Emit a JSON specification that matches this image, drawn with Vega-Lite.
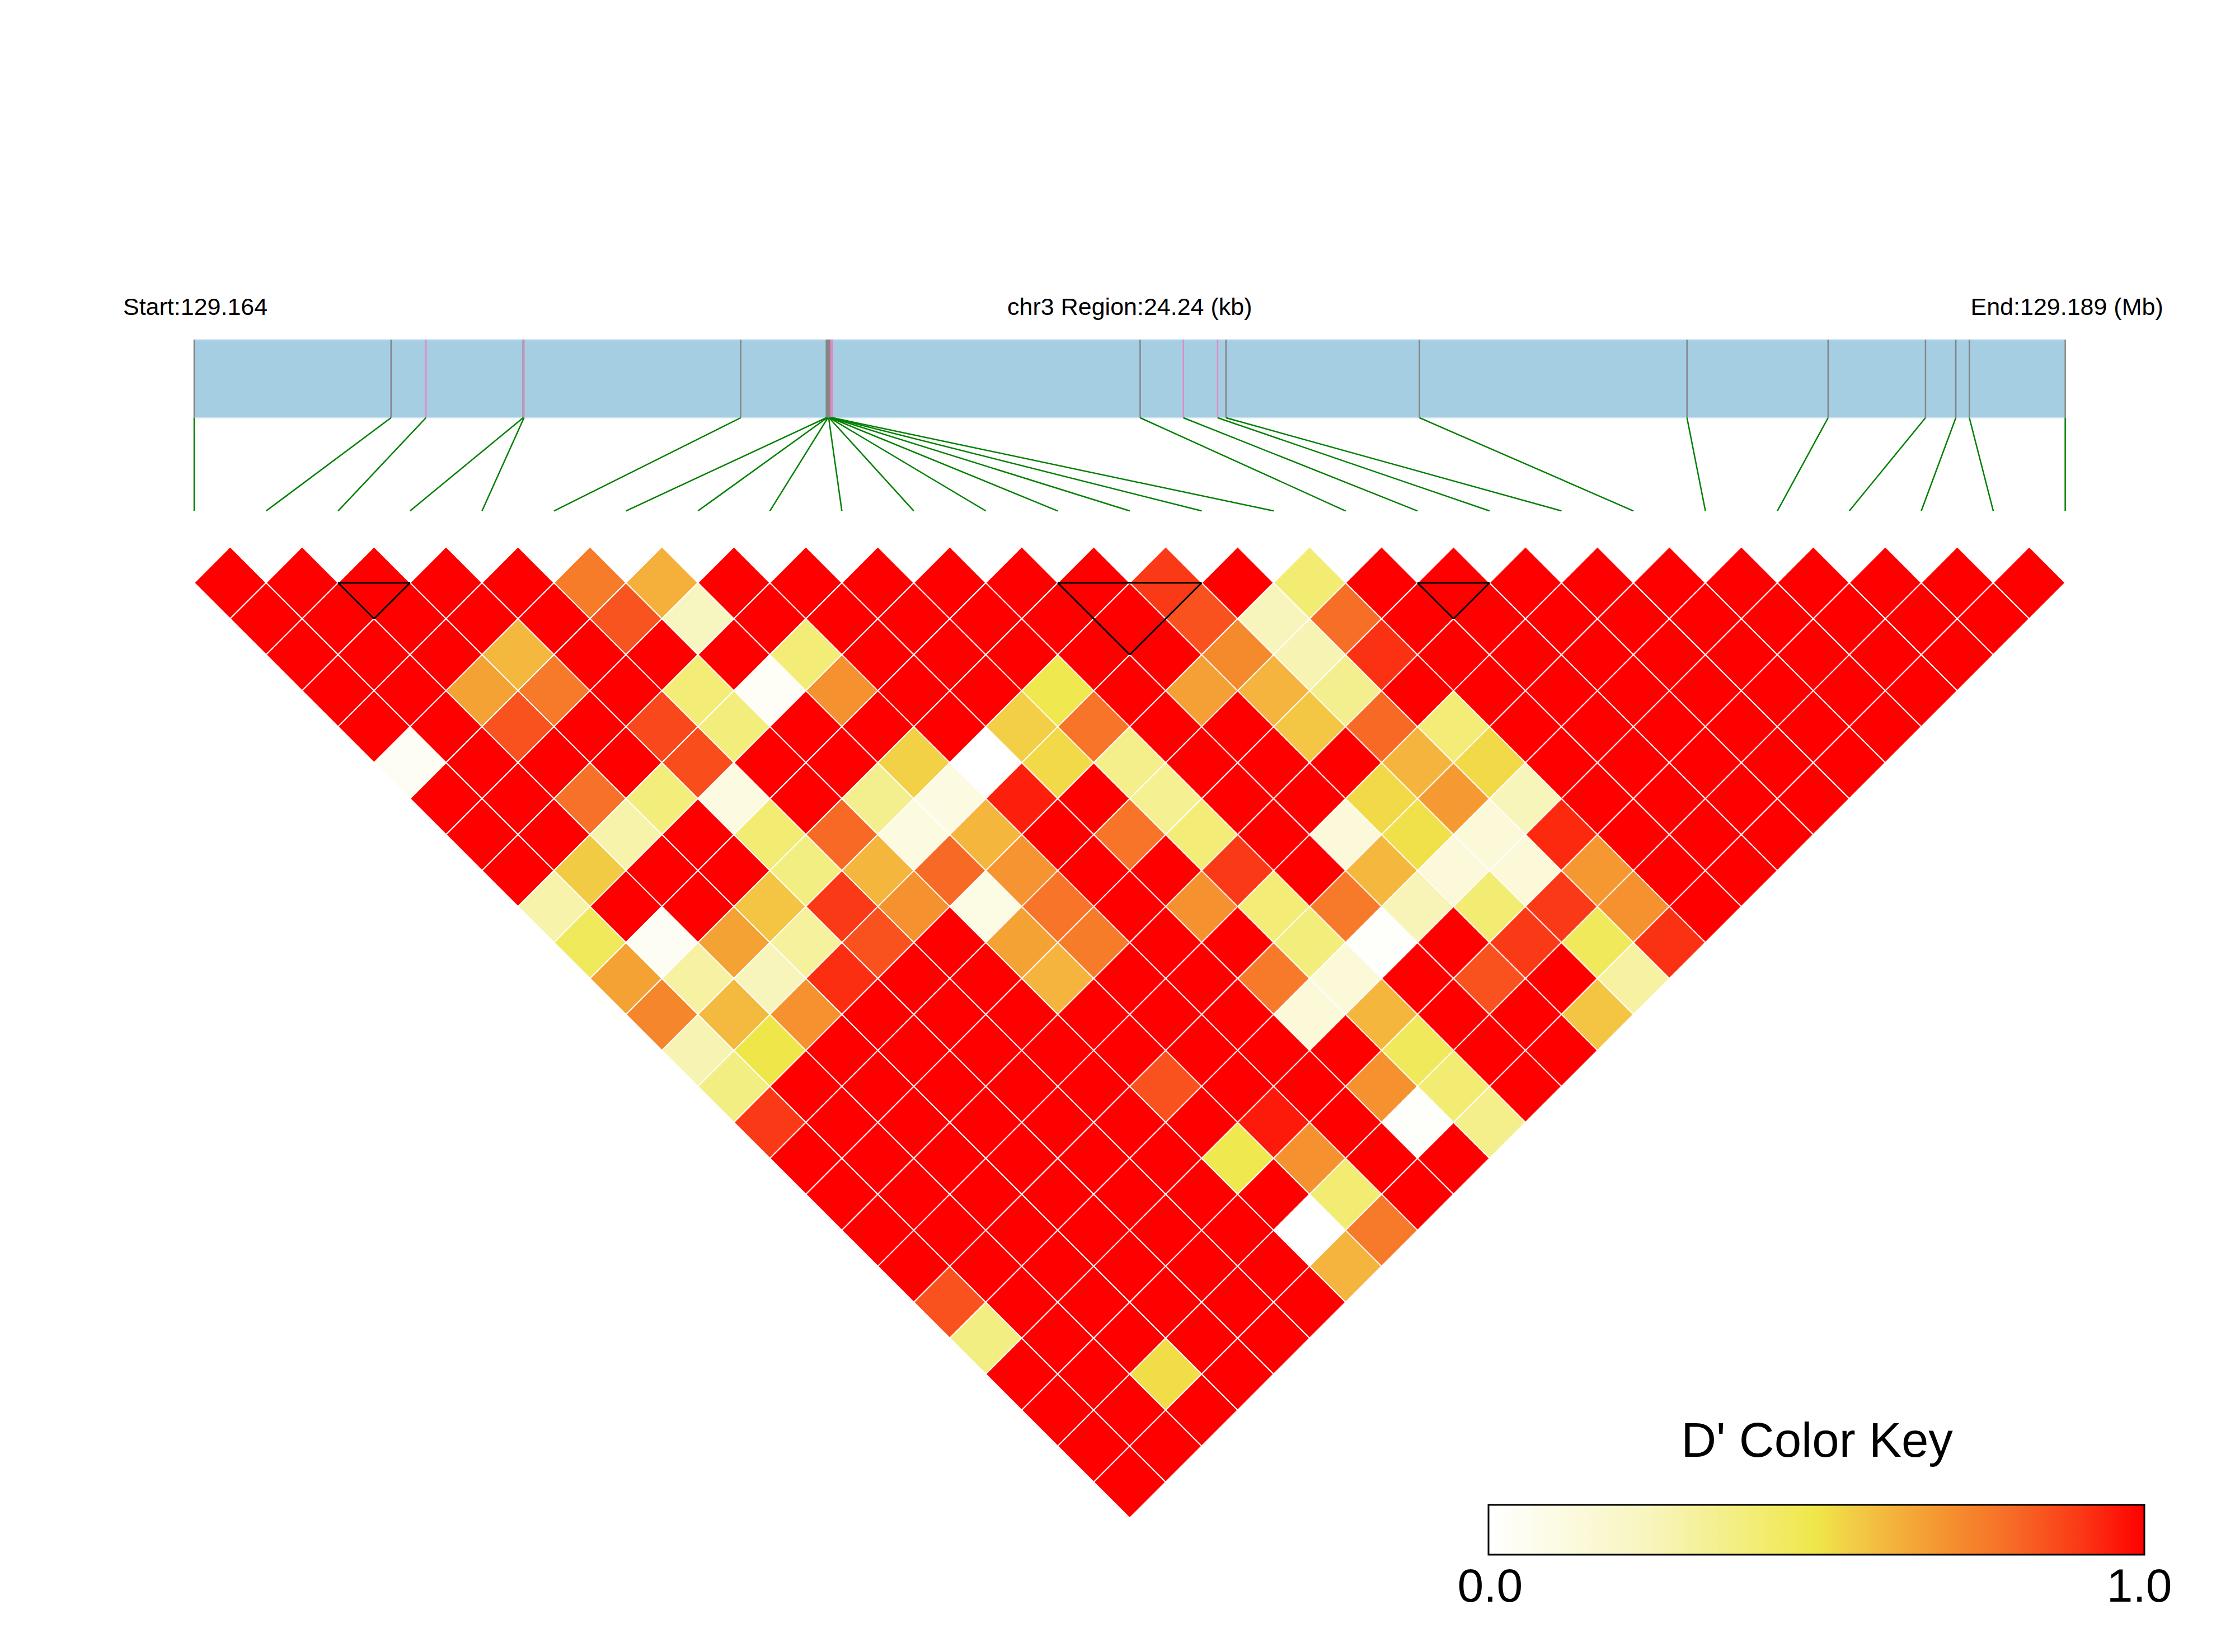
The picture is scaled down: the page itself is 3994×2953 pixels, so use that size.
{
"$schema": "https://vega.github.io/schema/vega-lite/v6.json",
"width": 3994, "height": 2953,
"autosize": {"type": "none"},
"padding": 0,
"background": "white",
"config": {"view": {"stroke": null}, "font": "Liberation Sans"},
"datasets": {
"snps": [
{"snp":0,"pos_kb":0,"group":"A"},{"snp":1,"pos_kb":2.55,"group":"A"},{"snp":2,"pos_kb":3.003,"group":"B"},{"snp":3,"pos_kb":4.262,"group":"A"},{"snp":4,"pos_kb":4.273,"group":"B"},{"snp":5,"pos_kb":7.081,"group":"A"},{"snp":6,"pos_kb":8.19,"group":"A"},{"snp":7,"pos_kb":8.2,"group":"A"},{"snp":8,"pos_kb":8.21,"group":"A"},{"snp":9,"pos_kb":8.22,"group":"A"},{"snp":10,"pos_kb":8.225,"group":"A"},{"snp":11,"pos_kb":8.23,"group":"A"},{"snp":12,"pos_kb":8.24,"group":"A"},{"snp":13,"pos_kb":8.25,"group":"B"},{"snp":14,"pos_kb":8.26,"group":"B"},{"snp":15,"pos_kb":8.27,"group":"B"},{"snp":16,"pos_kb":12.255,"group":"A"},{"snp":17,"pos_kb":12.815,"group":"B"},{"snp":18,"pos_kb":13.259,"group":"B"},{"snp":19,"pos_kb":13.367,"group":"A"},{"snp":20,"pos_kb":15.874,"group":"A"},{"snp":21,"pos_kb":19.34,"group":"A"},{"snp":22,"pos_kb":21.168,"group":"A"},{"snp":23,"pos_kb":22.43,"group":"A"},{"snp":24,"pos_kb":22.823,"group":"A"},{"snp":25,"pos_kb":22.998,"group":"A"},{"snp":26,"pos_kb":24.24,"group":"A"}
],
"blocks": [{"from":2,"to":3},{"from":12,"to":14},{"from":17,"to":18}],
"ld": [
{"i":0,"j":1,"d":1},{"i":0,"j":2,"d":1},{"i":0,"j":3,"d":1},{"i":0,"j":4,"d":1},{"i":0,"j":5,"d":1},{"i":0,"j":6,"d":0.04},{"i":0,"j":7,"d":1},{"i":0,"j":8,"d":1},{"i":0,"j":9,"d":1},{"i":0,"j":10,"d":0.29},{"i":0,"j":11,"d":0.46},{"i":0,"j":12,"d":0.66},{"i":0,"j":13,"d":0.73},{"i":0,"j":14,"d":0.27},{"i":0,"j":15,"d":0.38},{"i":0,"j":16,"d":0.9},{"i":0,"j":17,"d":1},{"i":0,"j":18,"d":1},{"i":0,"j":19,"d":1},{"i":0,"j":20,"d":1},{"i":0,"j":21,"d":0.85},{"i":0,"j":22,"d":0.38},{"i":0,"j":23,"d":1},{"i":0,"j":24,"d":1},{"i":0,"j":25,"d":1},{"i":0,"j":26,"d":1},
{"i":1,"j":2,"d":1},{"i":1,"j":3,"d":1},{"i":1,"j":4,"d":1},{"i":1,"j":5,"d":1},{"i":1,"j":6,"d":1},{"i":1,"j":7,"d":1},{"i":1,"j":8,"d":1},{"i":1,"j":9,"d":1},{"i":1,"j":10,"d":0.56},{"i":1,"j":11,"d":1},{"i":1,"j":12,"d":0.04},{"i":1,"j":13,"d":0.31},{"i":1,"j":14,"d":0.6},{"i":1,"j":15,"d":0.5},{"i":1,"j":16,"d":1},{"i":1,"j":17,"d":1},{"i":1,"j":18,"d":1},{"i":1,"j":19,"d":1},{"i":1,"j":20,"d":1},{"i":1,"j":21,"d":1},{"i":1,"j":22,"d":1},{"i":1,"j":23,"d":1},{"i":1,"j":24,"d":1},{"i":1,"j":25,"d":1},{"i":1,"j":26,"d":1},
{"i":2,"j":3,"d":1},{"i":2,"j":4,"d":1},{"i":2,"j":5,"d":1},{"i":2,"j":6,"d":0.66},{"i":2,"j":7,"d":0.85},{"i":2,"j":8,"d":1},{"i":2,"j":9,"d":0.78},{"i":2,"j":10,"d":0.29},{"i":2,"j":11,"d":1},{"i":2,"j":12,"d":1},{"i":2,"j":13,"d":0.66},{"i":2,"j":14,"d":0.25},{"i":2,"j":15,"d":0.7},{"i":2,"j":16,"d":1},{"i":2,"j":17,"d":1},{"i":2,"j":18,"d":1},{"i":2,"j":19,"d":1},{"i":2,"j":20,"d":1},{"i":2,"j":21,"d":1},{"i":2,"j":22,"d":1},{"i":2,"j":23,"d":1},{"i":2,"j":24,"d":1},{"i":2,"j":25,"d":0.52},{"i":2,"j":26,"d":1},
{"i":3,"j":4,"d":1},{"i":3,"j":5,"d":1},{"i":3,"j":6,"d":0.605},{"i":3,"j":7,"d":0.76},{"i":3,"j":8,"d":1},{"i":3,"j":9,"d":1},{"i":3,"j":10,"d":0.39},{"i":3,"j":11,"d":1},{"i":3,"j":12,"d":1},{"i":3,"j":13,"d":0.575},{"i":3,"j":14,"d":0.32},{"i":3,"j":15,"d":0.92},{"i":3,"j":16,"d":1},{"i":3,"j":17,"d":1},{"i":3,"j":18,"d":1},{"i":3,"j":19,"d":1},{"i":3,"j":20,"d":1},{"i":3,"j":21,"d":1},{"i":3,"j":22,"d":1},{"i":3,"j":23,"d":1},{"i":3,"j":24,"d":1},{"i":3,"j":25,"d":1},{"i":3,"j":26,"d":1},
{"i":4,"j":5,"d":1},{"i":4,"j":6,"d":1},{"i":4,"j":7,"d":1},{"i":4,"j":8,"d":1},{"i":4,"j":9,"d":0.87},{"i":4,"j":10,"d":0.86},{"i":4,"j":11,"d":0.11},{"i":4,"j":12,"d":0.41},{"i":4,"j":13,"d":0.38},{"i":4,"j":14,"d":0.9},{"i":4,"j":15,"d":0.85},{"i":4,"j":16,"d":1},{"i":4,"j":17,"d":1},{"i":4,"j":18,"d":1},{"i":4,"j":19,"d":1},{"i":4,"j":20,"d":1},{"i":4,"j":21,"d":1},{"i":4,"j":22,"d":1},{"i":4,"j":23,"d":1},{"i":4,"j":24,"d":1},{"i":4,"j":25,"d":1},{"i":4,"j":26,"d":1},
{"i":5,"j":6,"d":0.755},{"i":5,"j":7,"d":0.845},{"i":5,"j":8,"d":1},{"i":5,"j":9,"d":0.4},{"i":5,"j":10,"d":0.39},{"i":5,"j":11,"d":1},{"i":5,"j":12,"d":1},{"i":5,"j":13,"d":0.8},{"i":5,"j":14,"d":0.61},{"i":5,"j":15,"d":0.7},{"i":5,"j":16,"d":1},{"i":5,"j":17,"d":1},{"i":5,"j":18,"d":1},{"i":5,"j":19,"d":1},{"i":5,"j":20,"d":1},{"i":5,"j":21,"d":1},{"i":5,"j":22,"d":1},{"i":5,"j":23,"d":1},{"i":5,"j":24,"d":1},{"i":5,"j":25,"d":1},{"i":5,"j":26,"d":1},
{"i":6,"j":7,"d":0.625},{"i":6,"j":8,"d":0.235},{"i":6,"j":9,"d":1},{"i":6,"j":10,"d":0.03},{"i":6,"j":11,"d":1},{"i":6,"j":12,"d":1},{"i":6,"j":13,"d":0.35},{"i":6,"j":14,"d":0.12},{"i":6,"j":15,"d":0.8},{"i":6,"j":16,"d":0.1},{"i":6,"j":17,"d":0.66},{"i":6,"j":18,"d":0.615},{"i":6,"j":19,"d":1},{"i":6,"j":20,"d":1},{"i":6,"j":21,"d":0.85},{"i":6,"j":22,"d":1},{"i":6,"j":23,"d":0.49},{"i":6,"j":24,"d":1},{"i":6,"j":25,"d":0},{"i":6,"j":26,"d":0.615},
{"i":7,"j":8,"d":1},{"i":7,"j":9,"d":1},{"i":7,"j":10,"d":0.4},{"i":7,"j":11,"d":0.7},{"i":7,"j":12,"d":1},{"i":7,"j":13,"d":0.545},{"i":7,"j":14,"d":0.115},{"i":7,"j":15,"d":0.61},{"i":7,"j":16,"d":0.695},{"i":7,"j":17,"d":0.775},{"i":7,"j":18,"d":0.755},{"i":7,"j":19,"d":1},{"i":7,"j":20,"d":1},{"i":7,"j":21,"d":1},{"i":7,"j":22,"d":1},{"i":7,"j":23,"d":0.955},{"i":7,"j":24,"d":0.7},{"i":7,"j":25,"d":0.41},{"i":7,"j":26,"d":0.76},
{"i":8,"j":9,"d":1},{"i":8,"j":10,"d":1},{"i":8,"j":11,"d":1},{"i":8,"j":12,"d":1},{"i":8,"j":13,"d":1},{"i":8,"j":14,"d":0},{"i":8,"j":15,"d":0.945},{"i":8,"j":16,"d":1},{"i":8,"j":17,"d":1},{"i":8,"j":18,"d":1},{"i":8,"j":19,"d":1},{"i":8,"j":20,"d":1},{"i":8,"j":21,"d":1},{"i":8,"j":22,"d":1},{"i":8,"j":23,"d":1},{"i":8,"j":24,"d":1},{"i":8,"j":25,"d":1},{"i":8,"j":26,"d":1},
{"i":9,"j":10,"d":1},{"i":9,"j":11,"d":1},{"i":9,"j":12,"d":1},{"i":9,"j":13,"d":1},{"i":9,"j":14,"d":0.55},{"i":9,"j":15,"d":0.53},{"i":9,"j":16,"d":1},{"i":9,"j":17,"d":0.775},{"i":9,"j":18,"d":1},{"i":9,"j":19,"d":0.7},{"i":9,"j":20,"d":1},{"i":9,"j":21,"d":0.76},{"i":9,"j":22,"d":0.145},{"i":9,"j":23,"d":1},{"i":9,"j":24,"d":0.7},{"i":9,"j":25,"d":0.02},{"i":9,"j":26,"d":1},
{"i":10,"j":11,"d":1},{"i":10,"j":12,"d":1},{"i":10,"j":13,"d":1},{"i":10,"j":14,"d":0.49},{"i":10,"j":15,"d":0.775},{"i":10,"j":16,"d":0.36},{"i":10,"j":17,"d":0.345},{"i":10,"j":18,"d":0.4},{"i":10,"j":19,"d":0.9},{"i":10,"j":20,"d":0.4},{"i":10,"j":21,"d":0.39},{"i":10,"j":22,"d":0.15},{"i":10,"j":23,"d":0.61},{"i":10,"j":24,"d":0.46},{"i":10,"j":25,"d":0.41},{"i":10,"j":26,"d":0.36},
{"i":11,"j":12,"d":1},{"i":11,"j":13,"d":1},{"i":11,"j":14,"d":1},{"i":11,"j":15,"d":1},{"i":11,"j":16,"d":1},{"i":11,"j":17,"d":1},{"i":11,"j":18,"d":1},{"i":11,"j":19,"d":1},{"i":11,"j":20,"d":1},{"i":11,"j":21,"d":0.76},{"i":11,"j":22,"d":0.02},{"i":11,"j":23,"d":1},{"i":11,"j":24,"d":1},{"i":11,"j":25,"d":1},{"i":11,"j":26,"d":1},
{"i":12,"j":13,"d":1},{"i":12,"j":14,"d":1},{"i":12,"j":15,"d":1},{"i":12,"j":16,"d":0.665},{"i":12,"j":17,"d":1},{"i":12,"j":18,"d":1},{"i":12,"j":19,"d":1},{"i":12,"j":20,"d":0.14},{"i":12,"j":21,"d":0.605},{"i":12,"j":22,"d":0.26},{"i":12,"j":23,"d":1},{"i":12,"j":24,"d":0.85},{"i":12,"j":25,"d":1},{"i":12,"j":26,"d":1},
{"i":13,"j":14,"d":0.9},{"i":13,"j":15,"d":0.85},{"i":13,"j":16,"d":0.72},{"i":13,"j":17,"d":0.615},{"i":13,"j":18,"d":0.57},{"i":13,"j":19,"d":1},{"i":13,"j":20,"d":0.53},{"i":13,"j":21,"d":0.515},{"i":13,"j":22,"d":0.14},{"i":13,"j":23,"d":0.41},{"i":13,"j":24,"d":0.9},{"i":13,"j":25,"d":1},{"i":13,"j":26,"d":0.575},
{"i":14,"j":15,"d":1},{"i":14,"j":16,"d":0.25},{"i":14,"j":17,"d":0.27},{"i":14,"j":18,"d":0.35},{"i":14,"j":19,"d":0.8},{"i":14,"j":20,"d":0.615},{"i":14,"j":21,"d":0.68},{"i":14,"j":22,"d":0.15},{"i":14,"j":23,"d":0.15},{"i":14,"j":24,"d":0.9},{"i":14,"j":25,"d":0.46},{"i":14,"j":26,"d":0.31},
{"i":15,"j":16,"d":0.41},{"i":15,"j":17,"d":0.79},{"i":15,"j":18,"d":0.915},{"i":15,"j":19,"d":1},{"i":15,"j":20,"d":0.4},{"i":15,"j":21,"d":0.53},{"i":15,"j":22,"d":0.255},{"i":15,"j":23,"d":0.93},{"i":15,"j":24,"d":0.685},{"i":15,"j":25,"d":0.7},{"i":15,"j":26,"d":0.915},
{"i":16,"j":17,"d":1},{"i":16,"j":18,"d":1},{"i":16,"j":19,"d":1},{"i":16,"j":20,"d":1},{"i":16,"j":21,"d":1},{"i":16,"j":22,"d":1},{"i":16,"j":23,"d":1},{"i":16,"j":24,"d":1},{"i":16,"j":25,"d":1},{"i":16,"j":26,"d":1},
{"i":17,"j":18,"d":1},{"i":17,"j":19,"d":1},{"i":17,"j":20,"d":1},{"i":17,"j":21,"d":1},{"i":17,"j":22,"d":1},{"i":17,"j":23,"d":1},{"i":17,"j":24,"d":1},{"i":17,"j":25,"d":1},{"i":17,"j":26,"d":1},
{"i":18,"j":19,"d":1},{"i":18,"j":20,"d":1},{"i":18,"j":21,"d":1},{"i":18,"j":22,"d":1},{"i":18,"j":23,"d":1},{"i":18,"j":24,"d":1},{"i":18,"j":25,"d":1},{"i":18,"j":26,"d":1},
{"i":19,"j":20,"d":1},{"i":19,"j":21,"d":1},{"i":19,"j":22,"d":1},{"i":19,"j":23,"d":1},{"i":19,"j":24,"d":1},{"i":19,"j":25,"d":1},{"i":19,"j":26,"d":1},
{"i":20,"j":21,"d":1},{"i":20,"j":22,"d":1},{"i":20,"j":23,"d":1},{"i":20,"j":24,"d":1},{"i":20,"j":25,"d":1},{"i":20,"j":26,"d":1},
{"i":21,"j":22,"d":1},{"i":21,"j":23,"d":1},{"i":21,"j":24,"d":1},{"i":21,"j":25,"d":1},{"i":21,"j":26,"d":1},
{"i":22,"j":23,"d":1},{"i":22,"j":24,"d":1},{"i":22,"j":25,"d":1},{"i":22,"j":26,"d":1},
{"i":23,"j":24,"d":1},{"i":23,"j":25,"d":1},{"i":23,"j":26,"d":1},
{"i":24,"j":25,"d":1},{"i":24,"j":26,"d":1},
{"i":25,"j":26,"d":1}
]
},
"layer": [
{
"data": {"values": [{"chr": "chr3", "start_mb": 129.164, "end_mb": 129.189}]},
"mark": {"type": "rect", "color": "#a6cee3", "stroke": "#cfe3ee", "strokeWidth": 2},
"encoding": {
"x": {"datum": 0, "type": "quantitative", "scale": {"domain": [-2.6983, 28.3593], "nice": false, "zero": false}, "axis": null},
"x2": {"datum": 26},
"y": {"datum": -5.756, "type": "quantitative", "scale": {"domain": [-15.2006, 30.7247], "nice": false, "zero": false, "reverse": true}, "axis": null},
"y2": {"datum": -3.587}
}
},
{
"data": {"name": "snps"},
"transform": [{"calculate": "datum.pos_kb / 24.24 * 26", "as": "phys"}],
"mark": {"type": "rule", "strokeWidth": 2.5},
"encoding": {
"x": {"field": "phys", "type": "quantitative"},
"y": {"datum": -5.756, "type": "quantitative"},
"y2": {"datum": -3.587},
"stroke": {"field": "group", "type": "nominal", "scale": {"domain": ["A", "B"], "range": ["#858585", "#e08cc4"]}, "legend": null},
"order": {"field": "group"}
}
},
{
"data": {"name": "snps"},
"transform": [{"calculate": "datum.pos_kb / 24.24 * 26", "as": "phys"}],
"mark": {"type": "rule", "color": "#008000", "strokeWidth": 2.5},
"encoding": {
"x": {"field": "phys", "type": "quantitative"},
"x2": {"field": "snp"},
"y": {"datum": -3.587, "type": "quantitative"},
"y2": {"datum": -0.997}
}
},
{
"data": {"values": [{"label": "Start:129.164"}]},
"mark": {"type": "text", "align": "left", "baseline": "alphabetic", "fontSize": 43, "color": "black", "font": "Liberation Sans"},
"encoding": {"x": {"datum": -0.9876, "type": "quantitative"}, "y": {"datum": -6.445, "type": "quantitative"}, "text": {"field": "label"}}
},
{
"data": {"values": [{"label": "chr3 Region:24.24 (kb)"}]},
"mark": {"type": "text", "align": "center", "baseline": "alphabetic", "fontSize": 43, "color": "black", "font": "Liberation Sans"},
"encoding": {"x": {"datum": 13, "type": "quantitative"}, "y": {"datum": -6.445, "type": "quantitative"}, "text": {"field": "label"}}
},
{
"data": {"values": [{"label": "End:129.189 (Mb)"}]},
"mark": {"type": "text", "align": "right", "baseline": "alphabetic", "fontSize": 43, "color": "black", "font": "Liberation Sans"},
"encoding": {"x": {"datum": 27.362, "type": "quantitative"}, "y": {"datum": -6.445, "type": "quantitative"}, "text": {"field": "label"}}
},
{
"data": {"name": "ld"},
"transform": [
{"calculate": "(datum.i + datum.j) / 2", "as": "xpos"},
{"calculate": "datum.j - datum.i", "as": "dist"}
],
"mark": {"type": "point", "shape": "diamond", "filled": true, "size": 16538, "stroke": "white", "strokeWidth": 2, "opacity": 1},
"encoding": {
"x": {"field": "xpos", "type": "quantitative"},
"y": {"field": "dist", "type": "quantitative"},
"color": {
"field": "d", "type": "quantitative",
"scale": {"domain": [0, 0.25, 0.5, 0.55, 0.62, 0.7, 0.8, 0.9, 1], "range": ["#ffffff", "#f8f5bc", "#efe74a", "#f2cf46", "#f4b23c", "#f5922f", "#f76a26", "#fa3a16", "#ff0000"], "interpolate": "rgb"},
"legend": {
"orient": "none", "legendX": 2660, "legendY": 2535, "direction": "horizontal",
"gradientLength": 1172, "gradientThickness": 89,
"gradientStrokeColor": "black", "gradientStrokeWidth": 3,
"values": [0, 1], "labelExpr": "''", "labelOpacity": 0,
"title": "D' Color Key", "titleFontSize": 87, "titleFontWeight": "normal", "titleColor": "black", "titleFont": "Liberation Sans", "titleAnchor": "middle", "titlePadding": 68, "titleLimit": 4000,
"labelFontSize": 84, "labelOffset": 16
}
}
}
},
{
"data": {"values": [{"label": "0.0"}]},
"mark": {"type": "text", "align": "center", "baseline": "alphabetic", "fontSize": 84, "color": "black", "font": "Liberation Sans"},
"encoding": {"x": {"datum": 18.009, "type": "quantitative"}, "y": {"datum": 29.33, "type": "quantitative"}, "text": {"field": "label"}}
},
{
"data": {"values": [{"label": "1.0"}]},
"mark": {"type": "text", "align": "center", "baseline": "alphabetic", "fontSize": 84, "color": "black", "font": "Liberation Sans"},
"encoding": {"x": {"datum": 27.03, "type": "quantitative"}, "y": {"datum": 29.33, "type": "quantitative"}, "text": {"field": "label"}}
},
{
"data": {"name": "blocks"},
"transform": [
{"calculate": "(datum.from + datum.to) / 2", "as": "mid"},
{"calculate": "1 + (datum.to - datum.from)", "as": "depth"},
{"calculate": "1", "as": "top"}
],
"layer": [
{"mark": {"type": "rule", "color": "black", "strokeWidth": 3}, "encoding": {"x": {"field": "from", "type": "quantitative"}, "x2": {"field": "to"}, "y": {"field": "top", "type": "quantitative"}, "y2": {"field": "top"}}},
{"mark": {"type": "rule", "color": "black", "strokeWidth": 3}, "encoding": {"x": {"field": "from", "type": "quantitative"}, "x2": {"field": "mid"}, "y": {"field": "top", "type": "quantitative"}, "y2": {"field": "depth"}}},
{"mark": {"type": "rule", "color": "black", "strokeWidth": 3}, "encoding": {"x": {"field": "to", "type": "quantitative"}, "x2": {"field": "mid"}, "y": {"field": "top", "type": "quantitative"}, "y2": {"field": "depth"}}}
]
}
]
}
